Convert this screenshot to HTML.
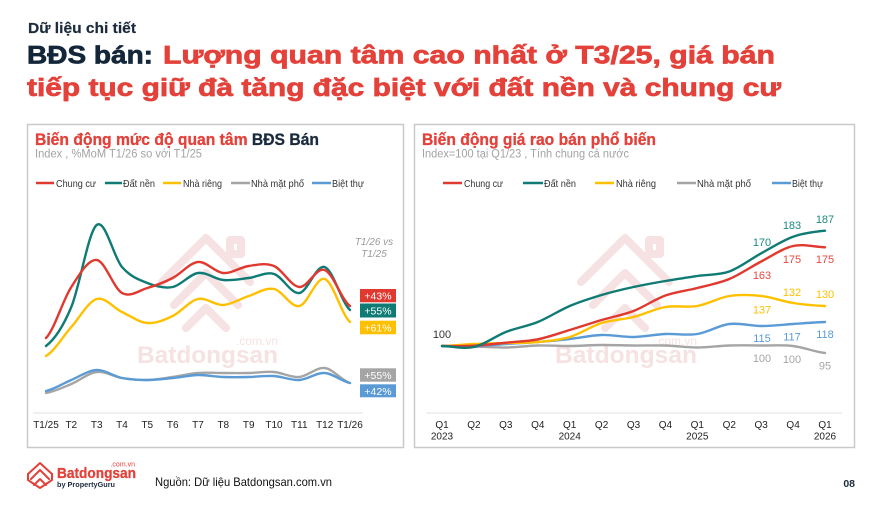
<!DOCTYPE html>
<html><head><meta charset="utf-8"><style>
html,body{margin:0;padding:0;background:#fff;}
svg{display:block;}
text{font-family:"Liberation Sans","Noto Sans CJK JP",sans-serif;}
</style></head><body>
<svg width="890" height="505" viewBox="0 0 890 505" xmlns="http://www.w3.org/2000/svg">
<rect x="0" y="0" width="890" height="505" fill="#fff"/>

<!-- Header -->
<text x="28" y="33" font-size="15" font-weight="bold" fill="#1b2b3d" stroke="#1b2b3d" stroke-width="0.2" textLength="108" lengthAdjust="spacingAndGlyphs">Dữ liệu chi tiết</text>
<text x="27" y="63.5" font-size="25" font-weight="bold" fill="#14273a" stroke="#14273a" stroke-width="0.7" textLength="126" lengthAdjust="spacingAndGlyphs">BĐS bán:</text>
<text x="163" y="63.5" font-size="25" font-weight="bold" fill="#e3413a" stroke="#e3413a" stroke-width="0.7" textLength="612" lengthAdjust="spacingAndGlyphs">Lượng quan tâm cao nhất ở T3/25, giá bán</text>
<text x="27" y="96" font-size="25" font-weight="bold" fill="#e3413a" stroke="#e3413a" stroke-width="0.7" textLength="754" lengthAdjust="spacingAndGlyphs">tiếp tục giữ đà tăng đặc biệt với đất nền và chung cư</text>

<!-- Panels -->
<rect x="27.5" y="124.5" width="376" height="323" fill="#fff" stroke="#c9c9c9" stroke-width="1.5"/>
<rect x="414.5" y="124.5" width="440" height="323" fill="#fff" stroke="#c9c9c9" stroke-width="1.5"/>

<!-- Watermarks left -->
<g fill="none" stroke="#f6e2e2" stroke-width="8" stroke-linejoin="round" stroke-linecap="round">
  <path d="M162,282 L206,238 L250,282"/>
  <path d="M174,305 L206,273 L238,305"/>
  <path d="M186,328 L206,308 L226,328"/>
  <rect x="230" y="240" width="11" height="14"/>
</g>
<text x="137" y="363" font-size="24" font-weight="bold" fill="#f6e2e2" textLength="141" lengthAdjust="spacingAndGlyphs">Batdongsan</text>
<text x="278" y="345" font-size="12" fill="#f6e2e2" text-anchor="end">.com.vn</text>

<!-- Watermarks right -->
<g fill="none" stroke="#f6e2e2" stroke-width="8" stroke-linejoin="round" stroke-linecap="round">
  <path d="M581,282 L625,238 L669,282"/>
  <path d="M593,305 L625,273 L657,305"/>
  <path d="M605,328 L625,308 L645,328"/>
  <rect x="649" y="240" width="11" height="14"/>
</g>
<text x="555" y="363" font-size="24" font-weight="bold" fill="#f6e2e2" textLength="142" lengthAdjust="spacingAndGlyphs">Batdongsan</text>
<text x="697" y="345" font-size="12" fill="#f6e2e2" text-anchor="end">.com.vn</text>

<!-- Left chart titles -->
<text x="35" y="145" font-size="17" font-weight="bold" stroke-width="0.3" textLength="284" lengthAdjust="spacingAndGlyphs"><tspan fill="#e3413a" stroke="#e3413a">Biến động mức độ quan tâm </tspan><tspan fill="#1b2b3d" stroke="#1b2b3d">BĐS Bán</tspan></text>
<text x="35" y="157.5" font-size="11.5" fill="#a3a3a3" textLength="167" lengthAdjust="spacingAndGlyphs">Index , %MoM T1/26 so với T1/25</text>

<!-- Left legend -->
<g stroke-width="2.5">
  <line x1="36" y1="183" x2="54" y2="183" stroke="#e0392f"/>
  <line x1="105" y1="183" x2="122" y2="183" stroke="#0f7b74"/>
  <line x1="163" y1="183" x2="181" y2="183" stroke="#ffc000"/>
  <line x1="231" y1="183" x2="250" y2="183" stroke="#a5a5a5"/>
  <line x1="312" y1="183" x2="331" y2="183" stroke="#5b9bd5"/>
</g>
<g font-size="10.5" fill="#333">
  <text x="56" y="187" textLength="40" lengthAdjust="spacingAndGlyphs">Chung cư</text>
  <text x="123" y="187" textLength="32" lengthAdjust="spacingAndGlyphs">Đất nền</text>
  <text x="183" y="187" textLength="39" lengthAdjust="spacingAndGlyphs">Nhà riêng</text>
  <text x="251" y="187" textLength="53" lengthAdjust="spacingAndGlyphs">Nhà mặt phố</text>
  <text x="332" y="187" textLength="32" lengthAdjust="spacingAndGlyphs">Biệt thự</text>
</g>

<!-- Left axis -->
<line x1="33" y1="413" x2="363" y2="413" stroke="#e2e2e2" stroke-width="1"/>
<g font-size="10" fill="#222" text-anchor="middle">
  <text x="46" y="428">T1/25</text>
  <text x="71.3" y="428">T2</text>
  <text x="96.7" y="428">T3</text>
  <text x="122" y="428">T4</text>
  <text x="147.3" y="428">T5</text>
  <text x="172.7" y="428">T6</text>
  <text x="198" y="428">T7</text>
  <text x="223.3" y="428">T8</text>
  <text x="248.7" y="428">T9</text>
  <text x="274" y="428">T10</text>
  <text x="299.3" y="428">T11</text>
  <text x="324.7" y="428">T12</text>
  <text x="350" y="428">T1/26</text>
</g>

<!-- Left series -->
<g fill="none" stroke-width="2.4" stroke-linecap="round" stroke-linejoin="round">
  <path stroke="#a5a5a5" d="M46,393 C54.4,391.5 62.9,387.5 71.3,384 S88.3,373 96.7,372 S113.6,376.7 122,378 S138.9,380.2 147.3,380 S164.3,378.2 172.7,377 S189.6,373.7 198,373 S214.9,373 223.3,373 S240.3,373.2 248.7,373 S265.6,371.3 274,372 S290.9,377.7 299.3,377 S316.3,367 324.7,368 S341.6,380.5 350,383"/>
  <path stroke="#5b9bd5" d="M46,391 C54.4,389.2 62.9,383.5 71.3,380 S88.3,370.3 96.7,370 S113.6,376.3 122,378 S138.9,380 147.3,380 S164.3,378.8 172.7,378 S189.6,375.2 198,375 S214.9,376.7 223.3,377 S240.3,377.2 248.7,377 S265.6,375.5 274,376 S290.9,380.5 299.3,380 S316.3,372.5 324.7,373 S341.6,381.3 350,383"/>
  <path stroke="#ffc000" d="M46,356 C54.4,351.2 62.9,336.5 71.3,327 S88.3,301.5 96.7,299 S113.6,308 122,312 S138.9,322.3 147.3,323 S164.3,320 172.7,316 S189.6,300.8 198,299 S214.9,305.5 223.3,305 S240.3,298.7 248.7,296 S265.6,287.3 274,289 S290.9,307.7 299.3,306 S316.3,276.3 324.7,279 S341.6,314.8 350,322"/>
  <path stroke="#0f7b74" d="M46,346 C54.4,339.5 62.9,327.2 71.3,307 S88.3,231.7 96.7,225 S113.6,257.3 122,267 S138.9,279.7 147.3,283 S164.3,288.7 172.7,287 S189.6,274.2 198,273 S214.9,279.2 223.3,280 S240.3,279 248.7,278 S265.6,271.5 274,274 S290.9,294.2 299.3,293 S316.3,264.2 324.7,267 S341.6,302.8 350,310"/>
  <path stroke="#e0392f" d="M46,338 C54.4,329.5 62.9,300 71.3,287 S88.3,259 96.7,260 S113.6,288.3 122,293 S138.9,290.5 147.3,288 S164.3,282.3 172.7,278 S189.6,262.8 198,262 S214.9,272.3 223.3,273 S240.3,267.2 248.7,266 S265.6,262.5 274,266 S290.9,286.3 299.3,287 S316.3,266.8 324.7,270 S341.6,300 350,306"/>
</g>

<!-- Left annotation -->
<g font-size="10" font-style="italic" fill="#9a9a9a" text-anchor="middle">
  <text x="374" y="245">T1/26 vs</text>
  <text x="374" y="257">T1/25</text>
</g>
<rect x="360" y="289" width="36" height="13.3" fill="#e0392f"/>
<rect x="360" y="303.5" width="36" height="14" fill="#0f7b74"/>
<rect x="360" y="320.7" width="36" height="13.6" fill="#ffc000"/>
<rect x="360" y="368.3" width="36" height="13.4" fill="#a5a5a5"/>
<rect x="360" y="384.3" width="36" height="13" fill="#5b9bd5"/>
<g font-size="10.5" fill="#fff" text-anchor="middle">
  <text x="378" y="299.5">+43%</text>
  <text x="378" y="314.5">+55%</text>
  <text x="378" y="331.5">+61%</text>
  <text x="378" y="379">+55%</text>
  <text x="378" y="394.8">+42%</text>
</g>

<!-- Right chart titles -->
<text x="422" y="145" font-size="17" font-weight="bold" fill="#e3413a" stroke="#e3413a" stroke-width="0.3" textLength="234" lengthAdjust="spacingAndGlyphs">Biến động giá rao bán phổ biến</text>
<text x="422" y="157.5" font-size="11.5" fill="#a3a3a3" textLength="207" lengthAdjust="spacingAndGlyphs">Index=100 tại Q1/23 , Tính chung cả nước</text>

<!-- Right legend -->
<g stroke-width="2.5">
  <line x1="443" y1="183" x2="462" y2="183" stroke="#e0392f"/>
  <line x1="523" y1="183" x2="543" y2="183" stroke="#0f7b74"/>
  <line x1="595" y1="183" x2="614" y2="183" stroke="#ffc000"/>
  <line x1="677" y1="183" x2="696" y2="183" stroke="#a5a5a5"/>
  <line x1="772" y1="183" x2="791" y2="183" stroke="#5b9bd5"/>
</g>
<g font-size="10.5" fill="#333">
  <text x="464" y="187" textLength="39" lengthAdjust="spacingAndGlyphs">Chung cư</text>
  <text x="544" y="187" textLength="32" lengthAdjust="spacingAndGlyphs">Đất nền</text>
  <text x="616" y="187" textLength="40" lengthAdjust="spacingAndGlyphs">Nhà riêng</text>
  <text x="697" y="187" textLength="54" lengthAdjust="spacingAndGlyphs">Nhà mặt phố</text>
  <text x="792" y="187" textLength="31" lengthAdjust="spacingAndGlyphs">Biệt thự</text>
</g>

<!-- Right axis -->
<line x1="426" y1="413" x2="842" y2="413" stroke="#e2e2e2" stroke-width="1"/>
<g font-size="10" fill="#222" text-anchor="middle">
  <text x="442" y="428">Q1</text><text x="442" y="439.5">2023</text>
  <text x="473.9" y="428">Q2</text>
  <text x="505.8" y="428">Q3</text>
  <text x="537.8" y="428">Q4</text>
  <text x="569.7" y="428">Q1</text><text x="569.7" y="439.5">2024</text>
  <text x="601.6" y="428">Q2</text>
  <text x="633.5" y="428">Q3</text>
  <text x="665.4" y="428">Q4</text>
  <text x="697.3" y="428">Q1</text><text x="697.3" y="439.5">2025</text>
  <text x="729.3" y="428">Q2</text>
  <text x="761.2" y="428">Q3</text>
  <text x="793.1" y="428">Q4</text>
  <text x="825" y="428">Q1</text><text x="825" y="439.5">2026</text>
</g>

<!-- Right series -->
<g fill="none" stroke-width="2.4" stroke-linecap="round" stroke-linejoin="round">
  <path stroke="#a5a5a5" d="M442,346 C452.6,346.1 463.3,346.25 473.9,346.5 S495.2,347.7 505.8,347.5 S527.2,345.75 537.8,345.5 S559.1,346.1 569.7,346 S591,345.1 601.6,345 S622.9,345.4 633.5,345.5 S654.8,345.2 665.4,345.5 S686.7,347.5 697.3,347.5 S718.7,345.8 729.3,345.5 S750.6,345.4 761.2,345.5 S782.5,344.75 793.1,346 S814.4,351.8 825,353"/>
  <path stroke="#5b9bd5" d="M442,346 C452.6,346 463.3,346.3 473.9,346 S495.2,344.7 505.8,344 S527.2,342.8 537.8,342 S559.1,340.2 569.7,339 S591,335.3 601.6,335 S622.9,337.2 633.5,337 S654.8,334.5 665.4,334 S686.7,335.7 697.3,334 S718.7,325.3 729.3,324 S750.6,326 761.2,326 S782.5,324.7 793.1,324 S814.4,322.3 825,322"/>
  <path stroke="#ffc000" d="M442,346 C452.6,345.7 463.3,344.5 473.9,344 S495.2,343.3 505.8,343 S527.2,343 537.8,342 S559.1,340.2 569.7,337 S591,326.3 601.6,323 S622.9,319.7 633.5,317 S654.8,308.8 665.4,307 S686.7,307.8 697.3,306 S718.7,297.7 729.3,296 S750.6,294.8 761.2,296 S782.5,301.3 793.1,303 S814.4,305.5 825,306"/>
  <path stroke="#e0392f" d="M442,346 C452.6,346 463.3,346.25 473.9,345.7 S495.2,343.8 505.8,342.7 S527.2,341.4 537.8,339.3 S559.1,333.2 569.7,330 S591,323.2 601.6,320 S622.9,315.1 633.5,311 S654.8,299.3 665.4,295.5 S686.7,290.75 697.3,288 S718.7,283.4 729.3,279 S750.6,267 761.2,261.5 S782.5,248.4 793.1,246 S814.4,247.1 825,247.3"/>
  <path stroke="#0f7b74" d="M442,346 C452.6,346.2 463.3,349.3 473.9,347 S495.2,336.2 505.8,332 S527.2,326.3 537.8,322 S559.1,310.5 569.7,306 S591,298.2 601.6,295 S622.9,289.3 633.5,287 S654.8,282.8 665.4,281 S686.7,277.6 697.3,276 S718.7,275.3 729.3,271.5 S750.6,259.1 761.2,253.3 S782.5,240.5 793.1,236.7 S814.4,231.7 825,230.7"/>
</g>

<!-- Right data labels -->
<g font-size="11" text-anchor="middle">
  <text x="442" y="338" fill="#333">100</text>
  <text x="825" y="223" fill="#1a8a84">187</text>
  <text x="792" y="229" fill="#1a8a84">183</text>
  <text x="762" y="246" fill="#1a8a84">170</text>
  <text x="792" y="263" fill="#e8483f">175</text>
  <text x="825" y="263" fill="#e8483f">175</text>
  <text x="762" y="279" fill="#e8483f">163</text>
  <text x="792" y="296" fill="#ffc000">132</text>
  <text x="825" y="298" fill="#ffc000">130</text>
  <text x="762" y="313.5" fill="#ffc000">137</text>
  <text x="762" y="342" fill="#5b9bd5">115</text>
  <text x="792" y="340.5" fill="#5b9bd5">117</text>
  <text x="825" y="338" fill="#5b9bd5">118</text>
  <text x="762" y="362" fill="#a5a5a5">100</text>
  <text x="792" y="363" fill="#a5a5a5">100</text>
  <text x="825" y="369.5" fill="#a5a5a5">95</text>
</g>

<!-- Footer logo -->
<g fill="none" stroke="#e3413a" stroke-width="2" stroke-linejoin="round" stroke-linecap="round">
  <path d="M28,474 L40,463 L52,474"/>
  <path d="M31,479 L40,470 L49,479"/>
  <path d="M34,485 L40,479 L46,485"/>
  <path d="M28,474 L28,480 L40,488 L52,480 L52,474"/>
</g>
<text x="57" y="478" font-size="15" font-weight="bold" fill="#e3413a" stroke="#e3413a" stroke-width="0.3" textLength="79" lengthAdjust="spacingAndGlyphs">Batdongsan</text>
<text x="135" y="466.5" font-size="7" fill="#e3413a" text-anchor="end">.com.vn</text>
<text x="57" y="487" font-size="7.5" font-weight="bold" fill="#1b2b3d" textLength="58" lengthAdjust="spacingAndGlyphs">by PropertyGuru</text>

<text x="155" y="486" font-size="12" fill="#111" textLength="177" lengthAdjust="spacingAndGlyphs">Nguồn: Dữ liệu Batdongsan.com.vn</text>
<text x="855" y="487" font-size="10.5" font-weight="bold" fill="#1b2b3d" text-anchor="end">08</text>
</svg>
</body></html>
